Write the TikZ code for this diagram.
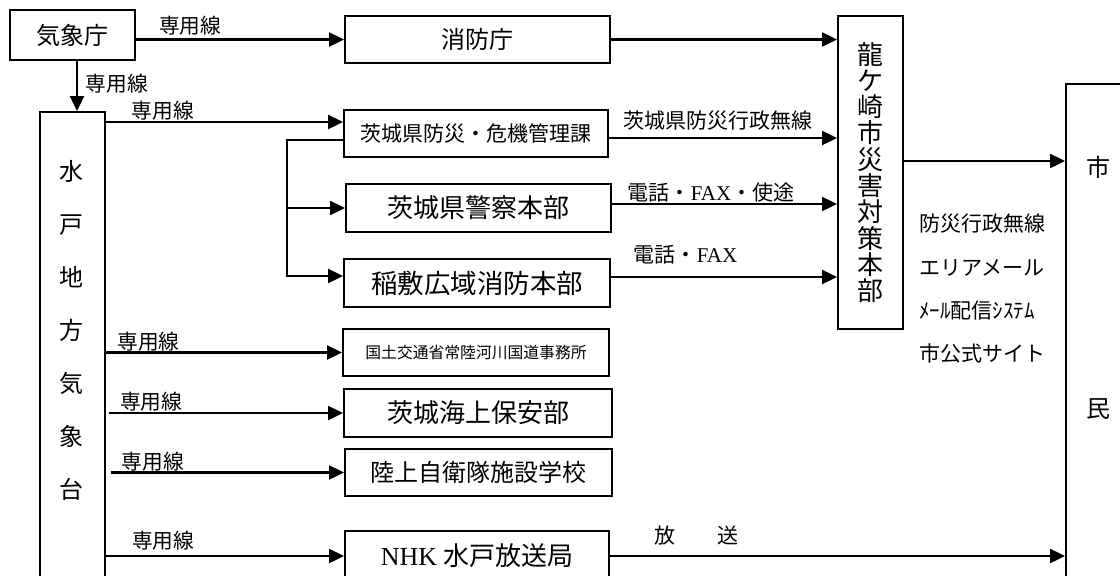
\documentclass[tikz,border=0pt]{standalone}
\usepackage{fontspec}
\setmainfont{Noto Sans CJK JP}
\newfontfamily\romfont{Liberation Serif}
\usepackage{tikz}
\usetikzlibrary{arrows.meta,calc}

\begin{document}
\begin{tikzpicture}[
    x=1pt, y=-1pt,
    box/.style={rectangle, draw=black, line width=2pt, inner sep=0pt, align=center},
    arrow/.style={-{Triangle[length=15pt, width=14pt]}, line width=2.4pt},
    lab/.style={inner sep=0.5pt, font=\fontsize{20.7}{24}\selectfont},
    rlab/.style={inner sep=0.5pt, font=\fontsize{21}{24}\selectfont}
]
\useasboundingbox (0,0) rectangle (1120,576);
\clip (0,0) rectangle (1120,576);

% ================= NODES =================
\node[box, minimum width=125pt, minimum height=50pt, font=\fontsize{24}{28}\selectfont] (Kisho) at (72.5,35) {気象庁};

\node[box, minimum width=265pt, minimum height=47pt, font=\fontsize{24}{28}\selectfont] (Shobo) at (477.5,39.5) {消防庁};

\node[box, minimum width=65pt, minimum height=480pt, anchor=north] (Mito) at (72.5,111) {};
\node[inner sep=0pt, align=center, font=\fontsize{24}{53}\selectfont] (MitoName) at (71,330) {水\\戸\\地\\方\\気\\象\\台};

\node[box, minimum width=264pt, minimum height=47pt, font=\fontsize{21}{24}\selectfont] (Bosai) at (476,133.5) {茨城県防災・危機管理課};

\node[box, minimum width=265pt, minimum height=48pt, font=\fontsize{26}{30}\selectfont] (Keisatsu) at (478.5,208) {茨城県警察本部};

\node[box, minimum width=266pt, minimum height=48pt, font=\fontsize{26.5}{30}\selectfont] (Inashiki) at (477,283) {稲敷広域消防本部};

\node[box, minimum width=266pt, minimum height=47pt, font=\fontsize{15.8}{18}\selectfont] (Kokudo) at (476,352.5) {国土交通省常陸河川国道事務所};

\node[box, minimum width=268pt, minimum height=48pt, font=\fontsize{26}{30}\selectfont] (Kaijo) at (478,413) {茨城海上保安部};

\node[box, minimum width=267pt, minimum height=47pt, font=\fontsize{24}{28}\selectfont] (Rikujo) at (478.5,472.5) {陸上自衛隊施設学校};

\node[box, minimum width=264pt, minimum height=50pt, font=\fontsize{26}{30}\selectfont] (NHK) at (477,556) {{\romfont NHK} 水戸放送局};

\node[box, minimum width=65pt, minimum height=313pt, font=\fontsize{26}{26.3}\selectfont] (Ryugasaki) at (870.5,172.5) {龍\\ケ\\崎\\市\\災\\害\\対\\策\\本\\部};

\node[inner sep=0pt, anchor=west, align=left, font=\fontsize{21}{43.3}\selectfont] (Media) at (919,289) {防災行政無線\\エリアメール\\ﾒｰﾙ配信ｼｽﾃﾑ\\市公式サイト};

\node[box, minimum width=75pt, minimum height=530pt, anchor=north west] (Shimin) at (1065,83) {};
\node[inner sep=0pt, align=center, font=\fontsize{24}{241}\selectfont] (ShiminName) at (1098,287.5) {市\\民};

\coordinate (Fork) at (287,140);
\coordinate (BosaiIn) at ($(Bosai.west)+(0,-11.5)$);
\coordinate (InashikiIn) at ($(Inashiki.west)+(0,-7)$);
\coordinate (BosaiOut) at ($(Bosai.east)+(0,4.5)$);
\coordinate (KeisatsuOut) at ($(Keisatsu.east)+(0,-4)$);
\coordinate (InashikiOut) at ($(Inashiki.east)+(0,-6)$);
\coordinate (RyuOut) at ($(Ryugasaki.east)+(0,-11.5)$);

% ================= DRAWING ARROWS =================
\draw[arrow] (Kisho.east |- Shobo.west) -- node[lab, above, pos=0.26, yshift=3pt] {専用線} (Shobo.west);
\draw[arrow] ($(Kisho.south)+(4.5,0)$) -- node[lab, right=7pt, pos=0.45] {専用線} ($(Mito.north)+(4.5,0)$);
\draw[arrow] (Mito.east |- BosaiIn) -- node[lab, above, pos=0.24] {専用線} (BosaiIn);
\draw[arrow] ($(Bosai.west)+(0,6.5)$) -- (Fork) |- (InashikiIn);
\draw[arrow] (Fork |- Keisatsu.west) -- (Keisatsu.west);
\draw[arrow] (Mito.east |- Kokudo.west) -- node[lab, above, pos=0.18] {専用線} (Kokudo.west);
\draw[arrow] ($(Mito.east |- Kaijo.west)+(3,0)$) -- node[lab, above, pos=0.18] {専用線} (Kaijo.west);
\draw[arrow] ($(Mito.east |- Rikujo.west)+(5,0)$) -- node[lab, above, pos=0.18] {専用線} (Rikujo.west);
\draw[arrow] (Mito.east |- NHK.west) -- node[lab, above, pos=0.24, yshift=4pt] {専用線} (NHK.west);

\draw[arrow] (Shobo.east) -- (Shobo.east -| Ryugasaki.west);
\draw[arrow] (BosaiOut) -- node[rlab, above, pos=0.48, yshift=6pt] {茨城県防災行政無線} (BosaiOut -| Ryugasaki.west);
\draw[arrow] (KeisatsuOut) -- node[rlab, above, pos=0.44] {電話・{\romfont FAX}・使途} (KeisatsuOut -| Ryugasaki.west);
\draw[arrow] (InashikiOut) -- node[rlab, above, pos=0.33, yshift=11pt] {電話・{\romfont FAX}} (InashikiOut -| Ryugasaki.west);

\draw[arrow] (RyuOut) -- (RyuOut -| Shimin.west);
\draw[arrow] (NHK.east) -- node[rlab, above, pos=0.19, yshift=9pt] {放　　送} (NHK.east -| Shimin.west);

\end{tikzpicture}
\end{document}
